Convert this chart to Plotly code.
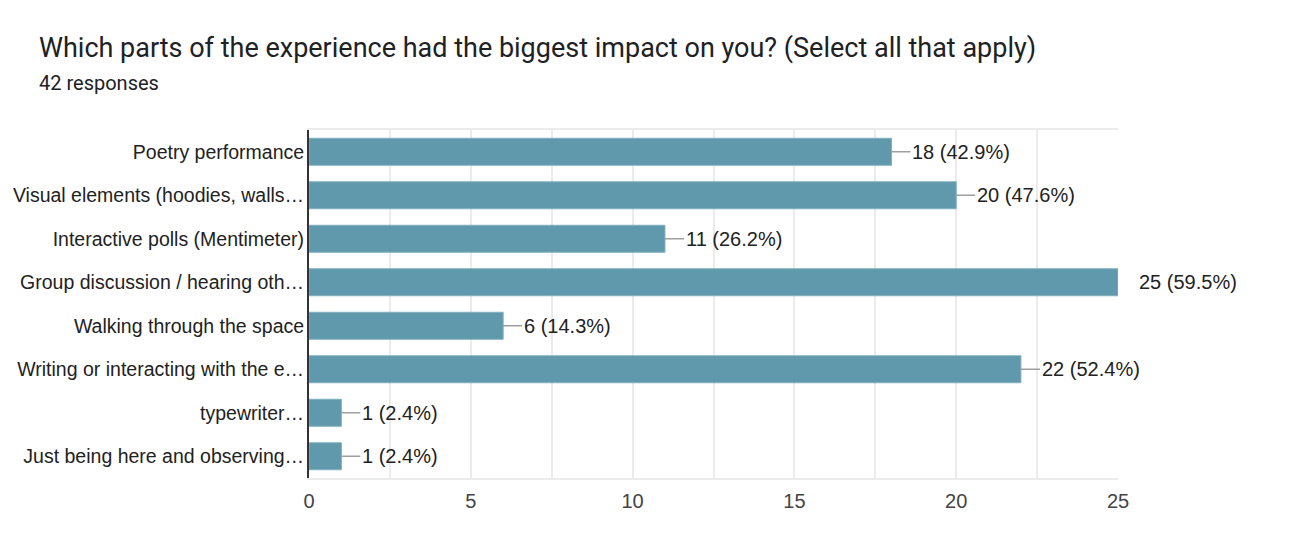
import plotly.graph_objects as go

categories = [
    "Poetry performance",
    "Visual elements (hoodies, walls…",
    "Interactive polls (Mentimeter)",
    "Group discussion / hearing oth…",
    "Walking through the space",
    "Writing or interacting with the e…",
    "typewriter…",
    "Just being here and observing…",
]
counts = [18, 20, 11, 25, 6, 22, 1, 1]
total_responses = 42
title_text = "Which parts of the experience had the biggest impact on you? (Select all that apply)"
subtitle_text = f"{total_responses} responses"
x_ticks = [0, 5, 10, 15, 20, 25]

BAR_COLOR = "#5f99ab"
LABEL_FONT = "Arial, Liberation Sans, sans-serif"

W, H = 1276, 518
L, R, T, B = 301, 166, 122, 48
PW, PH = W - L - R, H - T - B

fig = go.Figure()
fig.add_trace(go.Bar(
    y=categories,
    x=counts,
    orientation="h",
    marker=dict(color=BAR_COLOR, line=dict(color="#7fb0bf", width=1)),
    width=0.62,
    hoverinfo="skip",
))

x_max = max(x_ticks)
for cat, v in zip(categories, counts):
    pct = v / total_responses * 100
    fig.add_shape(type="line", xref="x", yref="y", xsizemode="pixel",
                  xanchor=v, x0=0, x1=19, y0=cat, y1=cat,
                  line=dict(color="#9e9e9e", width=1.5), layer="above")
    fig.add_annotation(x=v, y=cat, xref="x", yref="y", text=f"{v} ({pct:.1f}%)",
                       showarrow=False, xanchor="left", xshift=19,
                       font=dict(family=LABEL_FONT, size=20, color="#222222"))

fig.add_annotation(xref="paper", yref="paper", x=(29 - L) / PW, y=(H - B - 40) / PH,
                   text=title_text, showarrow=False, xanchor="left", yanchor="middle",
                   font=dict(family="Roboto", size=27, color="#202124"))
fig.add_annotation(xref="paper", yref="paper", x=(29 - L) / PW, y=(H - B - 75) / PH,
                   text=subtitle_text, showarrow=False, xanchor="left", yanchor="middle",
                   font=dict(family="Roboto", size=20, color="#202124"))

fig.update_layout(
    width=W, height=H,
    margin=dict(l=L, r=R, t=T, b=B),
    plot_bgcolor="white", paper_bgcolor="white",
    showlegend=False,
    xaxis=dict(range=[0, x_max], tickvals=x_ticks, showgrid=True, gridcolor="#ebebeb",
               gridwidth=1.5,
               minor=dict(dtick=2.5, showgrid=True, gridcolor="#ebebeb", gridwidth=1.5),
               showline=True, linecolor="#ebebeb", linewidth=1.5, mirror=True,
               zeroline=False, ticks="", ticklabelstandoff=4, automargin=False,
               tickfont=dict(family=LABEL_FONT, size=20, color="#444444"), fixedrange=True),
    yaxis=dict(autorange="reversed", showline=True, linecolor="#333333", linewidth=2,
               ticks="", ticklabelstandoff=-1, showgrid=False, automargin=False,
               tickfont=dict(family=LABEL_FONT, size=19.5, color="#222222"), fixedrange=True),
)

fig.write_html("out.html")
